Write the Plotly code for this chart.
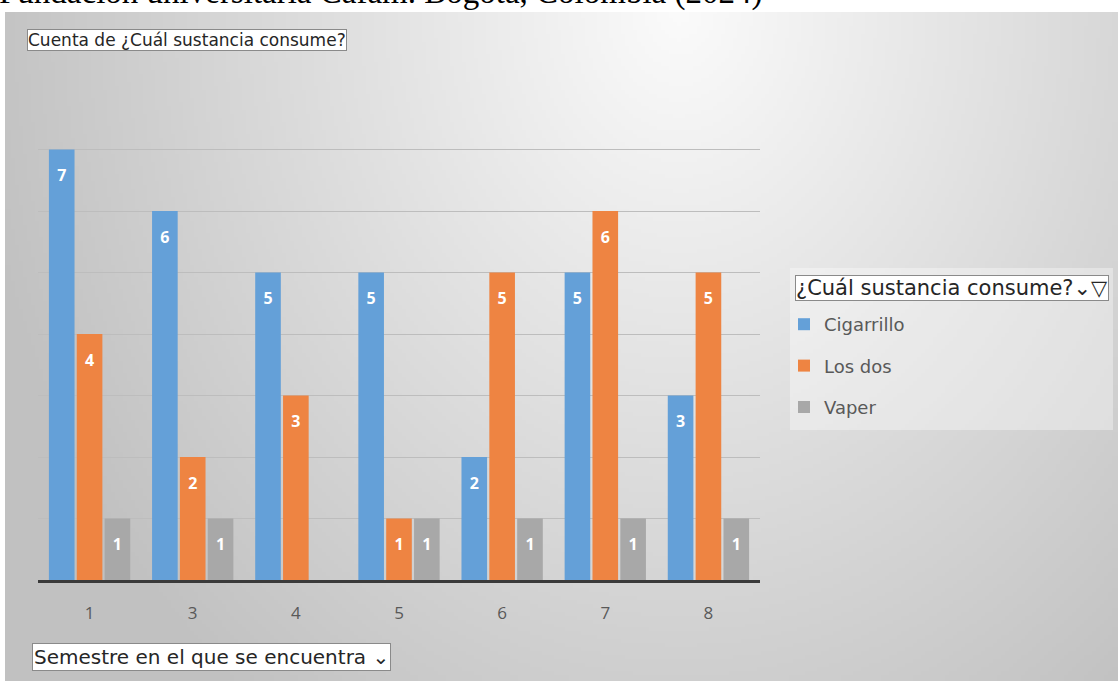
import base64, struct, zlib
import numpy as np
import plotly.graph_objects as go

# ---------------- data ----------------
semestres = ["1", "3", "4", "5", "6", "7", "8"]
cigarrillo = [7, 6, 5, 5, 2, 5, 3]
los_dos = [4, 2, 3, 1, 5, 6, 5]
vaper = [1, 1, None, 1, 1, 1, 1]
series_names = ["Cigarrillo", "Los dos", "Vaper"]
colors = ["#64A0D8", "#EE8442", "#A8A8A8"]

title_text = "Fundación universitaria Cafam. Bogotá, Colombia (2024)"
value_box = "Cuenta de ¿Cuál sustancia consume?"
axis_box = "Semestre en el que se encuentra ⌄"
legend_box = "¿Cuál sustancia consume?⌄▽"

# ---------------- layout geometry (pixels) ----------------
W, H = 1118, 681
L, R, T, B = 38, 760, 88, 580   # plot area edges in pixels
PW, PH = R - L, B - T
GAP = 0.19

def px(x):
    return (x - L) / PW

def py(y):
    return (B - y) / PH

# ---------------- background gradient image ----------------
def gradient_uri(w, h, scale):
    ys, xs = np.mgrid[0:h, 0:w].astype(float)
    X = xs * scale + 5
    Y = ys * scale + 12
    r = np.sqrt(((X - 680) / 620) ** 2 + ((Y - 10) / 760) ** 2)
    v = 251 - 50 * np.clip(r, 0, 1.15)
    img = np.clip(v, 0, 255).astype(np.uint8)
    raw = b"".join(b"\x00" + row.tobytes() for row in img)

    def chunk(tag, data):
        c = struct.pack(">I", len(data)) + tag + data
        return c + struct.pack(">I", zlib.crc32(tag + data) & 0xFFFFFFFF)

    png = b"\x89PNG\r\n\x1a\n"
    png += chunk(b"IHDR", struct.pack(">IIBBBBB", w, h, 8, 0, 0, 0, 0))
    png += chunk(b"IDAT", zlib.compress(raw, 9))
    png += chunk(b"IEND", b"")
    return "data:image/png;base64," + base64.b64encode(png).decode()

bg_uri = gradient_uri(279, 168, 4)

# ---------------- figure ----------------
fig = go.Figure()
for name, vals, col in zip(series_names, [cigarrillo, los_dos, vaper], colors):
    fig.add_trace(go.Bar(
        x=semestres, y=vals, name=name, legendgroup=name,
        offsetgroup=name, alignmentgroup="all",
        marker=dict(color=col, line=dict(width=0)),
        hoverinfo="x+y+name",
    ))
for name, vals in zip(series_names, [cigarrillo, los_dos, vaper]):
    # data labels, inside the top end of each bar
    fig.add_trace(go.Scatter(
        x=semestres, y=vals, mode="markers+text", text=vals,
        offsetgroup=name, alignmentgroup="all",
        textposition="bottom center",
        marker=dict(size=30, opacity=0),
        textfont=dict(family="Open Sans", size=16, color="white", weight="bold"),
        showlegend=False, hoverinfo="skip", legendgroup=name,
    ))

fig.update_layout(
    width=W, height=H,
    margin=dict(l=L, r=W - R, t=T, b=H - B, pad=0),
    paper_bgcolor="white",
    plot_bgcolor="rgba(0,0,0,0)",
    barmode="group", bargap=GAP, bargroupgap=0.08,
    scattermode="group", scattergap=GAP,
    font=dict(family="Open Sans", color="#595959"),
    showlegend=True,
    legend=dict(
        x=px(784), y=py(306), xanchor="left", yanchor="top",
        xref="paper", yref="paper",
        bgcolor="rgba(0,0,0,0)", borderwidth=0,
        font=dict(family="DejaVu Sans", size=18, color="#595959"),
        traceorder="grouped", tracegroupgap=15, itemwidth=30,
    ),
    images=[dict(
        source=bg_uri, xref="paper", yref="paper",
        x=px(5), y=py(12), sizex=(W - 5) / PW, sizey=(H - 12) / PH,
        xanchor="left", yanchor="top", sizing="stretch", layer="below",
    )],
    xaxis=dict(
        type="category", showgrid=False, showline=True,
        linecolor="#3a3a3a", linewidth=3,
        ticks="outside", ticklen=16, tickcolor="rgba(0,0,0,0)",
        tickfont=dict(family="Open Sans", size=17, color="#595959"),
        fixedrange=True,
    ),
    yaxis=dict(
        range=[0, 8.001], dtick=1, showticklabels=False, showgrid=True,
        gridcolor="#bdbdbd", gridwidth=1, zeroline=False, showline=False,
        fixedrange=True,
    ),
    shapes=[dict(
        type="rect", xref="paper", yref="paper",
        x0=px(790), x1=px(1113), y0=py(430), y1=py(268),
        fillcolor="rgba(255,255,255,0.35)", line=dict(width=0), layer="below",
    )],
    annotations=[
        dict(text=title_text, xref="paper", yref="paper",
             x=px(-2), y=py(12), xanchor="left", yanchor="bottom",
             showarrow=False, borderpad=0,
             font=dict(family="Liberation Serif", size=33, color="black")),
        dict(text=value_box, xref="paper", yref="paper",
             x=px(27), y=py(29), xanchor="left", yanchor="top",
             showarrow=False, bgcolor="white", bordercolor="#8a8a8a",
             borderwidth=1, borderpad=0,
             font=dict(family="DejaVu Sans", size=17, color="#262626")),
        dict(text=axis_box, xref="paper", yref="paper",
             x=px(32), y=py(643), xanchor="left", yanchor="top",
             showarrow=False, bgcolor="white", bordercolor="#8a8a8a",
             borderwidth=1, borderpad=1,
             font=dict(family="DejaVu Sans", size=20, color="#262626")),
        dict(text=legend_box, xref="paper", yref="paper",
             x=px(795), y=py(275), xanchor="left", yanchor="top",
             showarrow=False, bgcolor="white", bordercolor="#8a8a8a",
             borderwidth=1, borderpad=0,
             font=dict(family="DejaVu Sans", size=21, color="#262626")),
    ],
)

fig.write_html("out.html", config={"displayModeBar": False},
               post_script="document.body.style.margin='0px';document.body.style.padding='0px';")
